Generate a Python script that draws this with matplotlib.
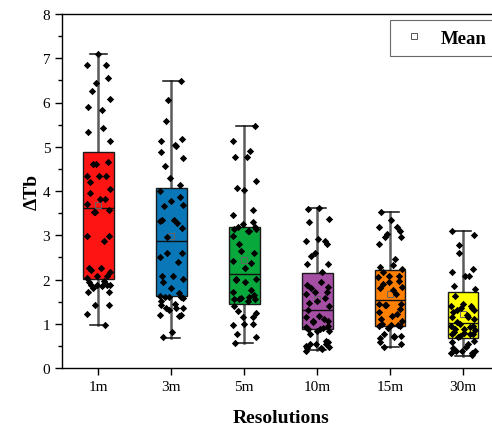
import numpy as np
import matplotlib
matplotlib.use("Agg")
import matplotlib.pyplot as plt
from matplotlib.lines import Line2D
from matplotlib.ticker import MultipleLocator

categories = ["1m", "3m", "5m", "10m", "15m", "30m"]
colors = ["#FF1414", "#0A78B8", "#08A83C", "#A44EA4", "#FF7F00", "#FFFF00"]

# box statistics
whislo = [0.97, 0.68, 0.56, 0.41, 0.47, 0.28]
q1 = [2.01, 1.62, 1.45, 0.89, 0.96, 0.67]
med = [3.62, 2.86, 2.12, 1.30, 1.54, 1.01]
q3 = [4.89, 4.06, 3.19, 2.15, 2.21, 1.71]
whishi = [7.10, 6.49, 5.48, 3.62, 3.52, 3.09]
means = [3.68, 2.99, 2.44, 1.56, 1.67, 1.22]

pts_1m = [7.10, 6.85, 6.85, 6.55, 6.43, 6.25, 6.08, 5.90, 5.82, 5.43, 5.34, 5.12,
          4.60, 4.60, 4.66, 4.34, 4.34, 4.34, 4.20, 4.05, 3.96, 3.83, 3.83, 3.71,
          3.56, 3.52, 3.52, 2.99, 2.99, 2.88, 2.25, 2.25, 2.16, 2.22, 2.07, 2.07,
          2.03, 1.88, 1.88, 1.88, 1.88, 1.94, 1.85, 1.97, 1.72, 1.71, 1.80, 1.42,
          1.42, 1.21, 0.97]
pts_3m = [6.48, 6.06, 5.59, 5.18, 5.13, 5.01, 5.04, 4.89, 4.75, 4.57, 4.29, 4.14,
          4.01, 3.86, 3.78, 3.67, 3.68, 3.35, 3.35, 3.28, 3.33, 3.16, 2.96, 2.59,
          2.59, 2.50, 2.39, 2.09, 2.09, 2.01, 1.94, 1.80, 1.69, 1.63, 1.60, 1.60,
          1.60, 1.58, 1.52, 1.45, 1.36, 1.42, 1.35, 1.35, 1.30, 1.20, 1.20, 1.18,
          0.82, 0.69]
pts_5m = [5.48, 5.14, 4.91, 4.76, 4.76, 4.23, 4.07, 4.02, 3.56, 3.46, 3.31, 3.25,
          3.19, 3.14, 3.14, 3.10, 3.10, 2.99, 3.19, 2.80, 2.65, 2.59, 2.42, 2.37,
          2.26, 2.00, 2.01, 2.01, 1.94, 1.76, 1.71, 1.66, 1.58, 1.55, 1.55, 1.55,
          1.60, 1.52, 1.39, 1.24, 1.29, 1.15, 1.16, 0.97, 0.99, 0.99, 0.77, 0.71,
          0.56]
pts_10m = [3.62, 3.60, 3.37, 3.29, 2.92, 2.88, 2.88, 2.80, 2.59, 2.52, 2.35, 2.35,
           2.18, 1.95, 1.88, 1.84, 1.80, 1.71, 1.71, 1.67, 1.58, 1.52, 1.46, 1.41,
           1.30, 1.18, 1.11, 1.15, 1.07, 1.07, 1.03, 0.96, 0.93, 0.90, 0.88, 0.88,
           0.84, 0.77, 0.84, 0.60, 0.50, 0.54, 0.54, 0.54, 0.48, 0.45, 0.45, 0.42,
           0.39, 0.58]
pts_15m = [3.52, 3.35, 3.18, 3.18, 3.10, 3.03, 2.95, 2.95, 2.80, 2.46, 2.33, 2.28,
           2.24, 2.16, 2.09, 2.09, 2.05, 1.97, 1.94, 1.90, 1.82, 1.80, 1.77, 1.67,
           1.45, 1.45, 1.42, 1.42, 1.33, 1.26, 1.22, 1.18, 1.11, 1.07, 0.99, 0.97,
           0.97, 0.94, 0.94, 0.90, 0.77, 0.73, 0.67, 0.69, 0.72, 0.58, 0.54, 0.47]
pts_30m = [3.09, 3.01, 2.78, 2.61, 2.24, 2.16, 2.09, 2.09, 1.86, 1.79, 1.62, 1.45,
           1.39, 1.39, 1.35, 1.35, 1.30, 1.30, 1.26, 1.20, 1.15, 1.15, 1.11, 1.03,
           1.00, 0.96, 0.96, 0.92, 0.88, 0.88, 0.85, 0.82, 0.80, 0.77, 0.77, 0.77,
           0.73, 0.69, 0.62, 0.58, 0.54, 0.47, 0.45, 0.39, 0.39, 0.39, 0.34, 0.34,
           0.29]
points = [pts_1m, pts_3m, pts_5m, pts_10m, pts_15m, pts_30m]

plt.rcParams['font.family'] = ['Liberation Serif', 'DejaVu Serif']

fig = plt.figure(figsize=(4.92, 4.31), dpi=100)
ax = fig.add_axes([62/492, 62/431, 437.5/492, 354/431])

positions = np.arange(1, len(categories) + 1)
stats = []
for i in range(len(categories)):
    stats.append(dict(whislo=whislo[i], q1=q1[i], med=med[i], q3=q3[i],
                      whishi=whishi[i], mean=means[i], fliers=[]))

bp = ax.bxp(stats, positions=positions, widths=0.42, capwidths=0.23,
            patch_artist=True, showmeans=True, showfliers=False,
            boxprops=dict(edgecolor="#1a1a1a", linewidth=1.0),
            whiskerprops=dict(color="#5a5a5a", linewidth=1.8),
            capprops=dict(color="#111111", linewidth=1.1),
            medianprops=dict(color="#111111", linewidth=1.0),
            meanprops=dict(marker="s", markersize=4.5, markerfacecolor="none",
                           markeredgecolor="#666666", markeredgewidth=0.7))
for patch, c in zip(bp['boxes'], colors):
    patch.set_facecolor(c)
for w in bp['whiskers']:
    w.set_zorder(1)
for b in bp['boxes']:
    b.set_zorder(2)
for m in bp['medians']:
    m.set_zorder(3)
for m in bp['means']:
    m.set_zorder(3)

for i, vals in enumerate(points):
    n = len(vals)
    idx = np.arange(n)
    jit = 0.16 * np.sin(idx * 2.39996 + i)
    ax.scatter(positions[i] + jit, vals, marker='D', s=14, color='black',
               zorder=4, linewidths=0)

ax.set_xlim(0.5, 6.5)
ax.set_ylim(0, 8)
ax.set_xticks(positions)
ax.set_xticklabels(categories, fontsize=11)
ax.yaxis.set_major_locator(MultipleLocator(1))
ax.yaxis.set_minor_locator(MultipleLocator(0.5))
ax.tick_params(axis='y', which='major', direction='out', length=5, width=1, labelsize=11)
ax.tick_params(axis='y', which='minor', direction='out', length=3, width=1)
ax.tick_params(axis='x', which='major', direction='out', length=5, width=1)
for s in ax.spines.values():
    s.set_linewidth(1.0)

ax.set_xlabel("Resolutions", fontsize=14, fontweight='bold', labelpad=12)
ax.set_ylabel("ΔTb", fontsize=14, fontweight='bold', labelpad=1)

handle = Line2D([], [], marker='s', linestyle='none', markersize=4,
                markerfacecolor='none', markeredgecolor='#555555', markeredgewidth=0.7)
leg = ax.legend([handle], ["Mean"], loc='upper left', bbox_to_anchor=(0.75, 0.983),
                borderaxespad=0, frameon=True, fancybox=False, handlelength=1.5,
                handletextpad=0.7, borderpad=0.5,
                prop=dict(family='Liberation Serif', weight='bold', size=13.5))
leg.get_frame().set_edgecolor('#444444')
leg.get_frame().set_linewidth(0.8)

fig.savefig("out.png", dpi=100)
